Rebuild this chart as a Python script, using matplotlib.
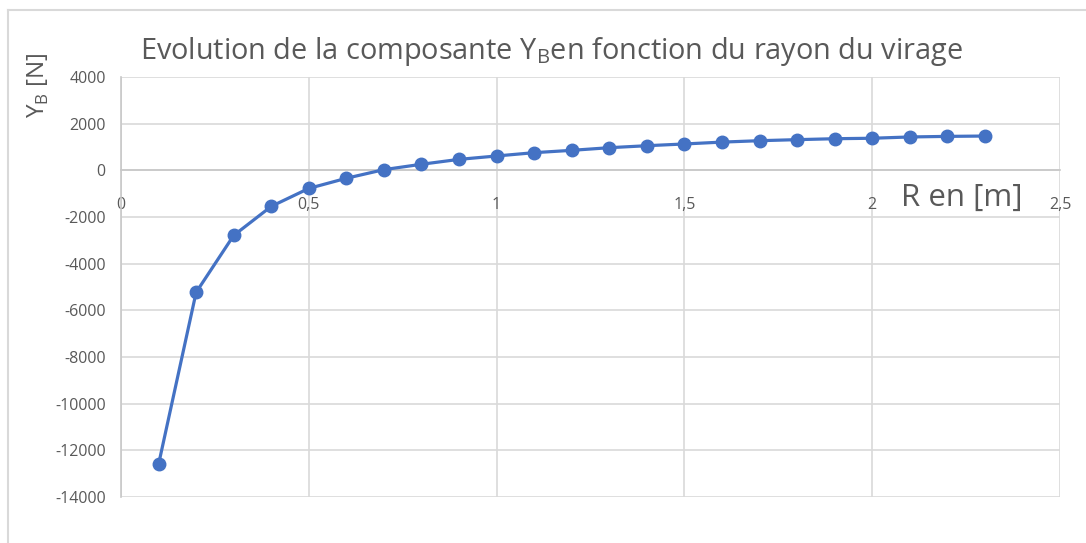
import matplotlib
matplotlib.use('Agg')
import matplotlib.pyplot as plt
from matplotlib.lines import Line2D

# Data
rayon = [0.1, 0.2, 0.3, 0.4, 0.5, 0.6, 0.7, 0.8, 0.9, 1.0, 1.1, 1.2,
         1.3, 1.4, 1.5, 1.6, 1.7, 1.8, 1.9, 2.0, 2.1, 2.2, 2.3]
yb = [-12600, -5230, -2790, -1545, -775, -340, 30, 260, 470, 615, 757, 857,
      970, 1055, 1130, 1210, 1270, 1315, 1355, 1375, 1430, 1455, 1470]

x_ticks = [0, 0.5, 1, 1.5, 2, 2.5]
x_tick_labels = ['0', '0,5', '1', '1,5', '2', '2,5']
y_ticks = list(range(-14000, 4001, 2000))

plt.rcParams['font.family'] = ['Open Sans', 'DejaVu Sans']
plt.rcParams['axes.unicode_minus'] = False
text_col = '#595959'
grid_col = '#d9d9d9'
blue = '#4472C4'

fig = plt.figure(figsize=(10.86, 5.43), dpi=100)
ax = fig.add_axes([121 / 1086, 1 - 497 / 543, (1060 - 121) / 1086, 420 / 543])

ax.plot(rayon, yb, color=blue, lw=2.3, marker='o', markersize=9,
        zorder=3, clip_on=False)

ax.set_xlim(0, 2.5)
ax.set_ylim(-14000, 4000)
ax.set_xticks(x_ticks)
ax.set_xticklabels(x_tick_labels)
ax.set_yticks(y_ticks)
ax.grid(True, color=grid_col, lw=1.2)
ax.set_axisbelow(True)

for s in ['top', 'right']:
    ax.spines[s].set_visible(False)
ax.spines['bottom'].set_position(('data', 0))
ax.spines['bottom'].set_color('#c8c8c8')
ax.spines['bottom'].set_linewidth(1.2)
ax.spines['left'].set_color('#c8c8c8')
ax.spines['left'].set_linewidth(1.2)

ax.tick_params(axis='both', length=0, colors=text_col, labelsize=11.5)
ax.tick_params(axis='x', pad=19)
ax.tick_params(axis='y', pad=11)

fig.text(551 / 1086, 1 - 51 / 543, r'Evolution de la composante Y$_\mathregular{B}$en fonction du rayon du virage',
         ha='center', va='center', fontsize=20.8, color=text_col)
fig.text(38 / 1086, 1 - 85 / 543, r'Y$_\mathregular{B}$ [N]', rotation=90,
         ha='center', va='center', fontsize=17.5, color=text_col)
fig.text(962 / 1086, 1 - 198 / 543, 'R en [m]', ha='center', va='center',
         fontsize=22.5, color=text_col)

# outer chart frame
fig.add_artist(Line2D([8 / 1086, 1], [1 - 10 / 543] * 2, color=grid_col, lw=1.5))
fig.add_artist(Line2D([8 / 1086] * 2, [0, 1 - 10 / 543], color=grid_col, lw=1.5))

fig.savefig('out.png', dpi=100, facecolor='white')
